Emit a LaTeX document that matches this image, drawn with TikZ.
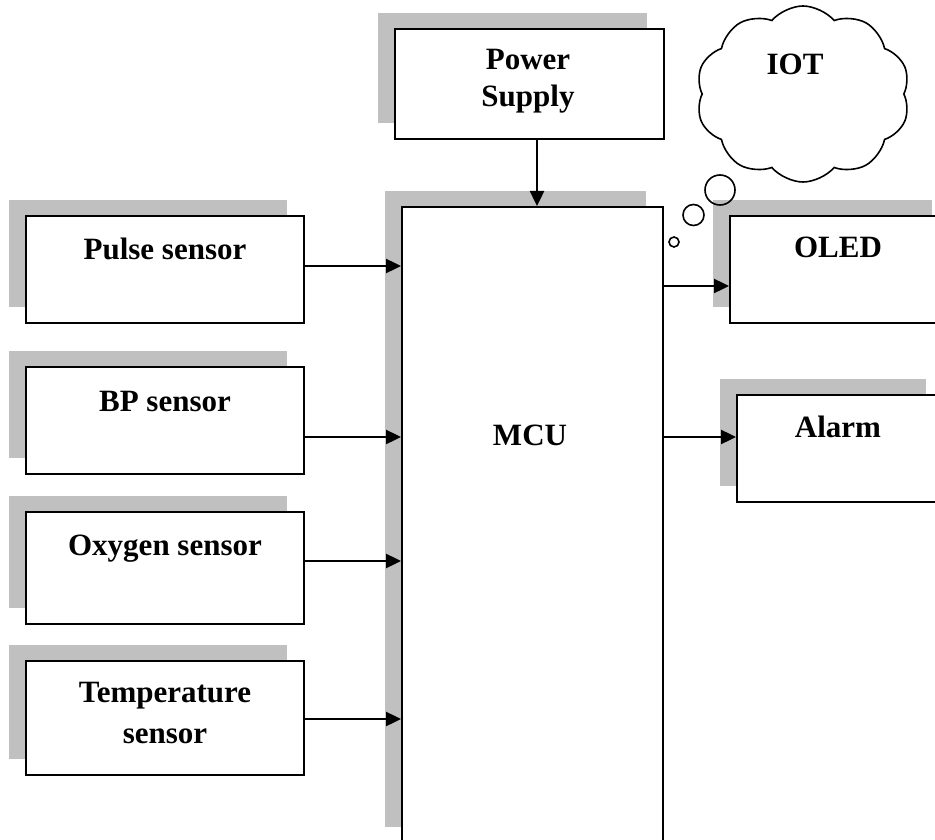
\documentclass[tikz,border=0pt]{standalone}
\usepackage{fontspec}
\setmainfont{Liberation Serif}
\usetikzlibrary{arrows.meta,shadows,shapes.symbols}
\definecolor{shadowgray}{RGB}{192,192,192}
\tikzset{
  blk/.style={draw, line width=2pt, fill=white, inner sep=0pt,
    drop shadow={shadow xshift=-17pt, shadow yshift=16pt, fill=shadowgray, opacity=1}},
  lbl/.style={font=\bfseries\fontsize{31}{37}\selectfont, anchor=base, align=center, inner sep=0pt},
  arr/.style={line width=2.4pt, -{Triangle[length=15pt,width=14pt]}},
  bubble/.style={draw, line width=1.6pt, circle, inner sep=0pt}
}
\begin{document}
\begin{tikzpicture}[x=1pt,y=-1pt]
\useasboundingbox (0,0) rectangle (935,840);
\clip (0,0) rectangle (935,840);
% boxes
\node[blk, minimum width=269pt, minimum height=110pt] (ps) at (529.5,84) {};
\node[blk, minimum width=261pt, minimum height=636pt] (mcu) at (532.5,525) {};
\node[blk, minimum width=278pt, minimum height=107pt] (pulse) at (165,269.5) {};
\node[blk, minimum width=278pt, minimum height=107pt] (bp) at (165,420.5) {};
\node[blk, minimum width=278pt, minimum height=112pt] (oxy) at (165,568) {};
\node[blk, minimum width=278pt, minimum height=114pt] (temp) at (165,718) {};
\node[blk, minimum width=219pt, minimum height=107pt] (oled) at (839.5,269.5) {};
\node[blk, minimum width=206pt, minimum height=107pt] (alarm) at (840,448.5) {};
% cloud
\node[cloud, draw, line width=1.6pt, cloud puffs=10, cloud puff arc=100, cloud ignores aspect,
      minimum width=214pt, minimum height=176pt, inner sep=0pt] (iot) at (803,94) {};
\node[bubble, minimum size=30pt] (b1) at (720,190) {};
\node[bubble, minimum size=21pt] (b2) at (693.5,215) {};
\node[bubble, minimum size=10pt] (b3) at (674,242) {};
% labels
\node[lbl] (tps) at (528,107) {Power\\Supply};
\node[lbl] (tmcu) at (530,445) {MCU};
\node[lbl] (tpulse) at (165,259) {Pulse sensor};
\node[lbl] (tbp) at (165,411) {BP sensor};
\node[lbl] (toxy) at (165,555) {Oxygen sensor};
\node[lbl, font=\bfseries\fontsize{31}{41}\selectfont] (ttemp) at (165,743) {Temperature\\sensor};
\node[lbl] (toled) at (838,257) {OLED};
\node[lbl] (talarm) at (838,437) {Alarm};
\node[lbl] (tiot) at (795,75) {IOT};
% connectors
\path ([xshift=7.5pt]ps.south) coordinate (psout);
\draw[arr] (psout) -- (psout |- mcu.north);
\path ([yshift=3.5pt]pulse.east) coordinate (pulout);
\draw[arr] (pulout) -- (pulout -| mcu.west);
\path ([yshift=-16.5pt]bp.east) coordinate (bpout);
\draw[arr] (bpout) -- (bpout -| mcu.west);
\path ([yshift=7pt]oxy.east) coordinate (oxyout);
\draw[arr] (oxyout) -- (oxyout -| mcu.west);
\path ([yshift=-1pt]temp.east) coordinate (tempout);
\draw[arr] (tempout) -- (tempout -| mcu.west);
\path ([yshift=-16.5pt]oled.west) coordinate (oledin);
\draw[arr] (oledin -| mcu.east) -- (oledin);
\path ([yshift=11.5pt]alarm.west) coordinate (alarmin);
\draw[arr] (alarmin -| mcu.east) -- (alarmin);
\end{tikzpicture}
\end{document}
